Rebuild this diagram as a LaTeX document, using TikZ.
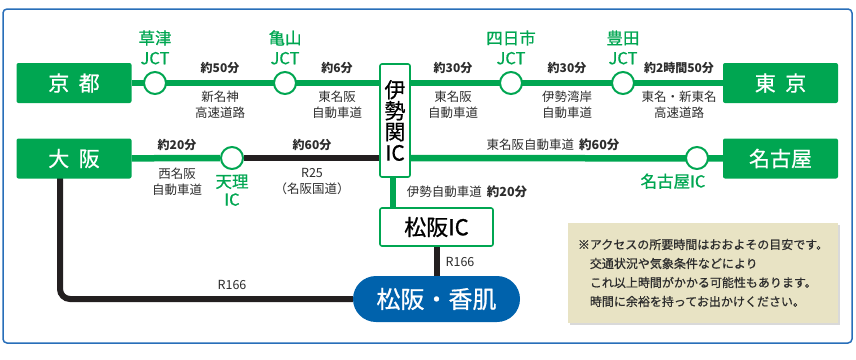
\documentclass[tikz,border=0pt]{standalone}
\usepackage{fontspec}
\setmainfont{Noto Sans CJK JP}
\newfontfamily\jpmed[FakeBold=0.7]{Noto Sans CJK JP}
\usetikzlibrary{positioning,backgrounds,shadows}
\definecolor{roadgreen}{RGB}{0,166,81}
\definecolor{frameblue}{RGB}{40,110,185}
\definecolor{pillblue}{RGB}{0,98,172}
\definecolor{notebeige}{RGB}{232,227,196}
\definecolor{roadblack}{RGB}{35,31,32}
\definecolor{labelgray}{RGB}{45,45,45}
\newcommand{\fsz}[2]{\fontsize{#1}{#2}\selectfont}
\tikzset{
  city/.style={fill=roadgreen, text=white, rounded corners=2pt, minimum width=115pt,
    minimum height=40pt, inner sep=0pt, font=\jpmed\fsz{21}{21}},
  jct/.style={circle, draw=roadgreen, fill=white, line width=2pt, minimum size=22pt, inner sep=0pt},
  jctname/.style={text=roadgreen, align=center, font=\jpmed\fsz{16.5}{20}},
  ic/.style={draw=roadgreen, fill=white, line width=1.6pt, rounded corners=2pt, inner sep=0pt},
  time/.style={text=labelgray, font=\bfseries\fsz{12}{14}},
  road/.style={text=labelgray, align=center, font=\fsz{12.5}{16}},
  greenway/.style={draw=roadgreen, line width=6.5pt},
  blackway/.style={draw=roadblack, line width=6pt},
}
\begin{document}
\begin{tikzpicture}[x=1pt, y=-1pt]
  \useasboundingbox (0,0) rectangle (856,359);
  \draw[frameblue, line width=1.5pt, rounded corners=4pt] (3,9) rectangle (852,343);

  % cities and junctions
  \node [city] (kyoto) at (74,83) {京\hspace{0.45em}都};
  \node [city] (tokyo) at (780.5,83) {東\hspace{0.45em}京};
  \node [city] (osaka) at (74,158.5) {大\hspace{0.45em}阪};
  \node [city] (nagoya) at (780.5,158.5) {名古屋};
  \node [jct] (kusatsu) at (155,83) {};
  \node [jct] (kameyama) at (285,83) {};
  \node [jct] (yokkaichi) at (511,83) {};
  \node [jct] (toyota) at (623,83) {};
  \node [jct] (tenri) at (232,158) {};
  \node [jct] (nagoyaic) at (697,158) {};
  \node [ic, minimum width=30pt, minimum height=113pt, align=center, font=\jpmed\fsz{21}{21}]
    (iseseki) at (395,120.5) {伊\\勢\\関\\IC};
  \node [ic, minimum width=113pt, minimum height=38pt, font=\jpmed\fsz{22}{22}]
    (matsusakaic) at (436.5,227) {松阪IC};
  \node [fill=pillblue, text=white, rounded corners=23pt, minimum width=167pt,
    minimum height=46pt, inner sep=0pt, font=\jpmed\fsz{24}{24}]
    (kahada) at (436.5,299) {松阪・香肌};

  % junction names
  \node [jctname, above=3pt of kusatsu] {草津\\JCT};
  \node [jctname, above=3pt of kameyama] {亀山\\JCT};
  \node [jctname, above=3pt of yokkaichi] {四日市\\JCT};
  \node [jctname, above=3pt of toyota] {豊田\\JCT};
  \node [jctname, below=1pt of tenri, font=\jpmed\fsz{16.5}{18}] {天理\\IC};
  \node [jctname, below=0pt of nagoyaic, xshift=-24pt] {名古屋IC};

  % times and roads
  \node [time] at (220,68) {約50分};
  \node [time] at (337,68) {約6分};
  \node [time] at (453,68) {約30分};
  \node [time] at (567,68) {約30分};
  \node [time] at (679,68) {約2時間50分};
  \node [road] at (220,105) {新名神\\高速道路};
  \node [road] at (337,105) {東名阪\\自動車道};
  \node [road] at (453,105) {東名阪\\自動車道};
  \node [road] at (567,105) {伊勢湾岸\\自動車道};
  \node [road] at (679,105) {東名・新東名\\高速道路};
  \node [time] at (177,145) {約20分};
  \node [time] at (312,145) {約60分};
  \node [road] at (177,181.5) {西名阪\\自動車道};
  \node [road] at (312,181.5) {R25\\（名阪国道）};
  \node [road] at (553,145) {東名阪自動車道\hspace{0.4em}\textbf{約60分}};
  \node [road] at (467,192) {伊勢自動車道\hspace{0.4em}\textbf{約20分}};
  \node [road] at (460,262) {R166};
  \node [road] at (232,285) {R166};

  % note
  \node [fill=notebeige, minimum width=270pt, minimum height=100pt, align=left,
    text=labelgray, font=\jpmed\fsz{12}{19},
    drop shadow={opacity=0.3, shadow xshift=2pt, shadow yshift=-2pt}]
    (note) at (703,273)
    {※アクセスの所要時間はおおよその目安です。\\
     　交通状況や気象条件などにより\\
     　これ以上時間がかかる可能性もあります。\\
     　時間に余裕を持ってお出かけください。};

  \begin{scope}[on background layer]
    \draw [greenway] (kyoto) -- (tokyo);
    \draw [greenway] (osaka) -- (tenri);
    \draw [blackway] (tenri) -- (tenri -| iseseki);
    \draw [greenway] (tenri -| iseseki) -- (nagoya);
    \draw [greenway] ([xshift=-2pt]iseseki.center) -- ([xshift=-2pt]iseseki |- matsusakaic);
    \draw [blackway] (matsusakaic) -- (kahada);
    \draw [blackway, rounded corners=10pt] ([xshift=-14pt]osaka.center) |- (kahada);
  \end{scope}
\end{tikzpicture}
\end{document}
